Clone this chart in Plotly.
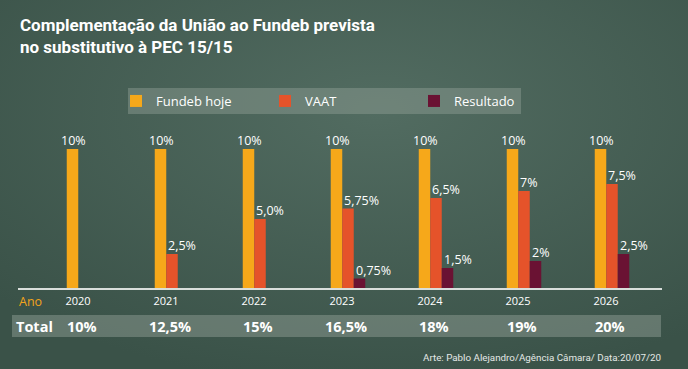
import base64
import plotly.graph_objects as go

# ---- data ----
years = ["2020", "2021", "2022", "2023", "2024", "2025", "2026"]
fundeb_hoje = [10, 10, 10, 10, 10, 10, 10]
vaat = [None, 2.5, 5.0, 5.75, 6.5, 7, 7.5]
resultado = [None, None, None, 0.75, 1.5, 2, 2.5]
fundeb_labels = ["10%"] * 7
vaat_labels = ["", "2,5%", "5,0%", "5,75%", "6,5%", "7%", "7,5%"]
resultado_labels = ["", "", "", "0,75%", "1,5%", "2%", "2,5%"]
totals = ["10%", "12,5%", "15%", "16,5%", "18%", "19%", "20%"]

# ---- style ----
BG = "#445c52"
C_Y = "#f6a81a"
C_O = "#e5532a"
C_R = "#6a1233"
W, H = 688, 369
ML, MR, MT, MB = 40, 32, 121, 80
LBL_FONT = "Open Sans, Noto Sans, sans-serif"
NARROW = "Roboto, sans-serif"

def px_x(p):
    return (p - ML) / (W - ML - MR)

def px_y(p):
    return (H - MB - p) / (H - MT - MB)

fig = go.Figure()
series = [
    ("Fundeb hoje", fundeb_hoje, fundeb_labels, C_Y),
    ("VAAT", vaat, vaat_labels, C_O),
    ("Resultado", resultado, resultado_labels, C_R),
]
for name, vals, _, col in series:
    fig.add_trace(go.Bar(x=years, y=vals, name=name, marker_color=col,
                         marker_line_width=0))

BAR_W = 11.5
annotations = []
for i, (name, vals, labels, col) in enumerate(series):
    for k, (v, lab) in enumerate(zip(vals, labels)):
        if v is None or not lab:
            continue
        if i == 0:
            annotations.append(dict(x=k, y=v, xref="x", yref="y", text=lab,
                                    showarrow=False, xanchor="center", yanchor="bottom",
                                    xshift=-BAR_W + 1, yshift=-2,
                                    font=dict(family=LBL_FONT, size=12.5, color="white")))
        else:
            left = -BAR_W * 1.5 + i * BAR_W
            annotations.append(dict(x=k, y=v, xref="x", yref="y", text=lab,
                                    showarrow=False, xanchor="left", yanchor="bottom",
                                    xshift=left, yshift=-2,
                                    font=dict(family=LBL_FONT, size=12.5, color="white")))

# totals row
for k, t in enumerate(totals):
    annotations.append(dict(x=k, y=px_y(326), xref="x", yref="paper", text=t,
                            showarrow=False, xanchor="center", yanchor="middle",
                            xshift=-2,
                            font=dict(family=LBL_FONT, size=14.5, color="white",
                                      weight="bold")))
annotations.append(dict(x=px_x(14), y=px_y(326), xref="paper", yref="paper",
                        text="Total", showarrow=False, xanchor="left", yanchor="middle",
                        font=dict(family=LBL_FONT, size=14.5, color="white", weight="bold")))
annotations.append(dict(x=px_x(17), y=px_y(301), xref="paper", yref="paper",
                        text="Ano", showarrow=False, xanchor="left", yanchor="middle",
                        font=dict(family=LBL_FONT, size=12.5, color="#f2a31b")))
# title
annotations.append(dict(x=px_x(18), y=px_y(13), xref="paper", yref="paper",
                        text="Complementação da União ao Fundeb prevista<br>no substitutivo à PEC 15/15",
                        showarrow=False, xanchor="left", yanchor="top", align="left",
                        font=dict(family=NARROW, size=17, color="white", weight="bold")))
# credit
annotations.append(dict(x=px_x(663), y=px_y(357), xref="paper", yref="paper",
                        text="Arte: Pablo Alejandro/Agência Câmara/ Data:20/07/20",
                        showarrow=False, xanchor="right", yanchor="middle",
                        font=dict(family=NARROW, size=9.8, color="#e4e8e6")))

shapes = [
    # legend background
    dict(type="rect", xref="paper", yref="paper", x0=px_x(128), x1=px_x(521),
         y0=px_y(114), y1=px_y(88), fillcolor="rgba(150,165,155,0.42)",
         line_width=0, layer="below"),
    # totals band
    dict(type="rect", xref="paper", yref="paper", x0=px_x(12), x1=px_x(661),
         y0=px_y(337), y1=px_y(315), fillcolor="rgba(150,165,155,0.45)",
         line_width=0, layer="below"),
    # baseline
    dict(type="line", xref="paper", yref="paper", x0=px_x(18), x1=px_x(662),
         y0=0, y1=0, line=dict(color="#d9dedb", width=2), layer="above"),
]

# soft radial background glow
svg = (
    '<svg xmlns="http://www.w3.org/2000/svg" width="688" height="369">'
    '<defs><radialGradient id="g" cx="0.55" cy="0.3" r="0.75">'
    '<stop offset="0" stop-color="#526c61"/>'
    '<stop offset="1" stop-color="#3a5248"/>'
    '</radialGradient></defs>'
    '<rect width="688" height="369" fill="url(#g)"/></svg>'
)
bg_src = "data:image/svg+xml;base64," + base64.b64encode(svg.encode()).decode()

fig.update_layout(
    width=W, height=H,
    margin=dict(l=ML, r=MR, t=MT, b=MB, autoexpand=False),
    paper_bgcolor=BG, plot_bgcolor="rgba(0,0,0,0)",
    images=[dict(source=bg_src, xref="paper", yref="paper",
                 x=px_x(0), y=px_y(0), sizex=W / (W - ML - MR),
                 sizey=H / (H - MT - MB), xanchor="left", yanchor="top",
                 sizing="stretch", layer="below")],
    barmode="group", bargap=0.608, bargroupgap=0,
    showlegend=True,
    legend=dict(orientation="h", x=px_x(116), y=px_y(101), xanchor="left",
                yanchor="middle", bgcolor="rgba(0,0,0,0)", entrywidth=104,
                entrywidthmode="pixels", itemclick=False,
                font=dict(family=LBL_FONT, size=13, color="white")),
    xaxis=dict(type="category", range=[-0.5, 6.5], showgrid=False, zeroline=False,
               showline=False, ticks="",
               tickfont=dict(family=LBL_FONT, size=11, color="white"),
               ticklabelshift=-6, ticklabelstandoff=4, fixedrange=True),
    yaxis=dict(range=[0, 12], showgrid=False, zeroline=False, showline=False,
               showticklabels=False, fixedrange=True),
    annotations=annotations, shapes=shapes,
)

fig.write_html("out.html", config={"displayModeBar": False},
               post_script="document.body.style.margin='0';")
